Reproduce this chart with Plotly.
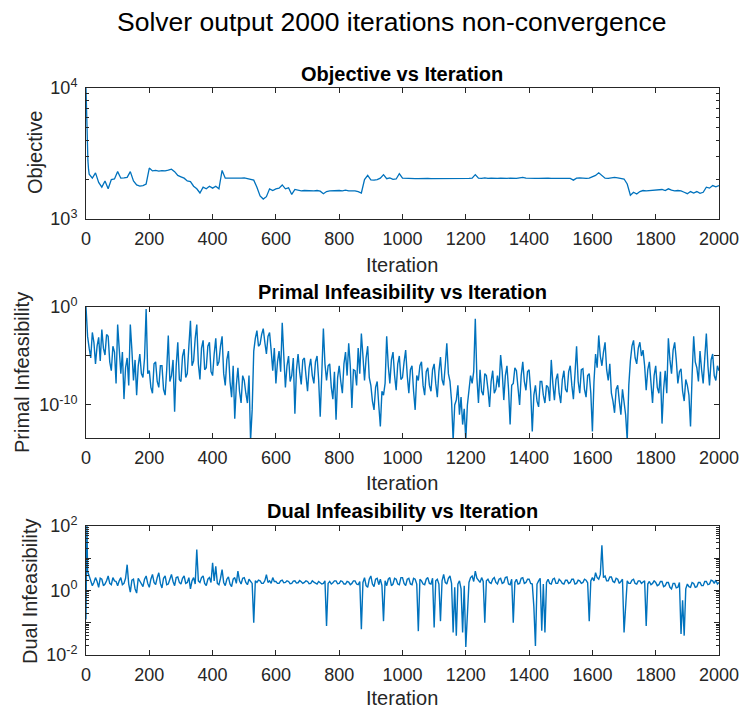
import plotly.graph_objects as go

# ---------------- data ----------------
obj_iter = [0, 2, 4, 6, 8] + list(range(10, 2001, 10))
objective = [
    10000, 5100, 3600, 2800, 2400,
    2200, 2050, 2250, 1900, 1750, 1950, 1700, 2000, 2020,
    2300, 2050, 2060, 2080, 2300, 1950, 1820, 1780, 1800, 1850,
    2450, 2330, 2350, 2320, 2340, 2330, 2360, 2400, 2300, 2150,
    2100, 2050, 1950, 1930, 1780, 1700, 1580, 1750, 1700, 1780,
    1720, 1780, 1700, 2350, 2050, 2050, 2030, 2040, 2030, 2050,
    2060, 2040, 2020, 1980, 1750, 1500, 1420, 1480, 1700, 1650,
    1700, 1720, 1820, 1700, 1730, 1540, 1680, 1650, 1640, 1650,
    1640, 1650, 1640, 1650, 1630, 1560, 1620, 1640, 1650, 1640,
    1650, 1640, 1660, 1640, 1650, 1640, 1620, 1580, 2000, 2150,
    1990, 1980, 2000, 2050, 2180, 2030, 2060, 2010, 2020, 2220,
    2050, 2040, 2030, 2020, 2030, 2030, 2040, 2050, 2040, 2030,
    2030, 2020, 2040, 2030, 2020, 2030, 2030, 2020, 2030, 2030,
    2030, 2040, 2050, 2180, 2050, 2040, 2060, 2040, 2050, 2040,
    2040, 2050, 2040, 2040, 2050, 2040, 2040, 2060, 2080, 2050,
    2040, 2050, 2040, 2040, 2050, 2040, 2050, 2040, 2040, 2040,
    2040, 2050, 2040, 2040, 1980, 2050, 2060, 2040, 2040, 2050,
    2100, 2150, 2250, 2150, 2050, 2040, 2050, 2080, 2060, 2040,
    2020, 1850, 1520, 1600, 1550, 1620, 1650, 1640, 1650, 1660,
    1650, 1660, 1680, 1650, 1700, 1660, 1640, 1650, 1640, 1600,
    1560, 1620, 1580, 1620, 1570, 1600, 1750, 1720, 1800, 1760, 1800,
]

# primal infeasibility, written as log10 of the value read on the log axis
primal_iter = list(range(0, 2001, 5))
primal_log10 = [
    0.0, -3.0, -4.2, -5.2, -2.6, -3.6, -5.8, -4.0, -3.1, -5.5, -2.3, -4.2, -4.9, -2.8, -3.0, -5.6, -6.5, -4.0, -4.6, -7.8,
    -1.8, -5.0, -6.8, -4.6, -9.4, -6.2, -5.2, -8.0, -1.8, -4.4, -7.5, -5.4, -9.0, -6.0, -4.8, -6.8, -7.2, -5.2, -0.2, -6.8,
    -6.5, -8.2, -8.8, -5.8, -5.6, -7.6, -8.2, -6.0, -6.0, -8.4, -9.0, -6.4, -2.9, -7.6, -7.0, -5.4, -10.7, -6.0, -3.6, -7.4,
    -7.6, -5.0, -4.3, -7.2, -6.8, -4.0, -1.4, -6.0, -5.5, -3.2, -1.8, -5.8, -7.4, -4.2, -3.4, -6.4, -6.2, -4.0, -3.6, -6.6,
    -7.0, -4.8, -3.2, -6.0, -5.6, -4.0, -3.0, -6.8, -8.0, -5.4, -4.5, -7.6, -9.2, -6.0, -11.4, -8.0, -6.2, -8.6, -9.8, -7.0,
    -7.5, -8.8, -9.8, -7.0, -13.6, -10.5, -4.5, -3.2, -2.4, -4.0, -3.8, -2.8, -2.2, -3.6, -4.8, -3.0, -2.6, -4.4, -6.5, -4.2,
    -7.8, -5.6, -4.5, -6.6, -1.6, -5.0, -8.2, -6.0, -5.0, -7.6, -7.0, -5.2, -10.9, -6.4, -4.8, -6.6, -7.9, -5.4, -5.2, -7.0,
    -8.6, -6.2, -5.3, -7.0, -7.8, -5.6, -5.0, -7.4, -11.2, -6.8, -2.2, -5.8, -7.5, -6.0, -5.8, -8.2, -9.4, -6.6, -11.5, -7.2,
    -6.0, -7.6, -8.8, -5.8, -4.6, -7.0, -3.7, -6.0, -10.3, -6.4, -6.5, -8.0, -4.2, -6.8, -2.7, -5.0, -7.5, -5.2, -4.0, -7.2,
    -8.0, -9.6, -10.5, -8.2, -7.6, -10.0, -12.2, -8.6, -9.0, -7.8, -3.0, -6.0, -7.8, -5.4, -4.6, -7.0, -8.5, -5.8, -5.0, -7.4,
    -7.2, -5.6, -4.4, -7.0, -8.8, -6.4, -6.0, -8.6, -10.5, -7.0, -7.5, -6.0, -5.6, -8.0, -9.0, -6.6, -6.2, -8.0, -8.6, -6.4,
    -5.8, -7.8, -9.2, -6.6, -5.1, -7.4, -8.0, -6.0, -3.7, -6.8, -7.6, -9.6, -13.6, -10.0, -9.5, -8.0, -11.0, -9.2, -12.0, -10.4,
    -13.6, -10.0, -8.5, -7.0, -7.8, -6.6, -1.2, -7.2, -9.8, -6.4, -8.6, -9.0, -6.8, -7.0, -8.4, -10.2, -7.6, -6.5, -8.8, -8.4,
    -7.0, -8.2, -4.9, -6.6, -9.5, -7.0, -6.0, -8.4, -12.0, -8.0, -7.8, -6.2, -6.5, -8.4, -10.0, -7.0, -5.6, -7.6, -8.5, -6.6,
    -6.4, -8.6, -12.7, -9.0, -8.0, -9.6, -10.2, -7.6, -7.6, -9.0, -9.8, -8.0, -8.2, -9.6, -5.4, -7.8, -9.5, -7.4, -6.8, -8.8,
    -9.8, -7.4, -6.5, -8.4, -8.7, -6.6, -6.0, -8.0, -9.4, -6.8, -4.0, -7.6, -8.8, -6.4, -6.3, -8.4, -9.2, -7.0, -6.8, -8.8,
    -12.7, -7.6, -4.8, -6.2, -2.9, -5.0, -6.0, -4.6, -3.6, -6.4, -7.5, -5.8, -8.8, -9.6, -10.8, -8.4, -8.0, -9.6, -11.0, -8.4,
    -9.5, -11.0, -13.6, -8.0, -5.5, -4.0, -3.4, -5.2, -5.8, -4.2, -3.6, -5.0, -4.4, -6.0, -8.5, -6.4, -5.6, -7.8, -9.8, -7.0,
    -6.0, -8.2, -8.8, -6.6, -11.9, -8.4, -6.5, -8.8, -3.2, -5.4, -6.8, -4.4, -3.6, -5.4, -7.8, -6.6, -6.3, -8.6, -9.6, -7.4,
    -8.0, -9.0, -12.2, -7.0, -3.0, -5.6, -6.2, -7.6, -4.5, -6.4, -7.8, -5.2, -2.7, -6.0, -8.0, -5.4, -4.8, -7.0, -7.5, -6.0, -6.5,
]

# dual infeasibility, written as log10 of the value read on the log axis
dual_iter = [0, 1, 2, 3] + list(range(5, 2001, 5))
dual_log10 = [
    -0.9, -0.4, 1.2, 2.0,
    0.6, 0.45, 0.30, 0.15, 0.25, 0.40, 0.28, 0.10, 0.38, 0.35, 0.15, 0.20, 0.30, 0.45, 0.22, 0.18, 0.40, 0.30, 0.28,
    0.15, 0.30, 0.40, 0.18, 0.22, 0.38, 0.80, 0.20, -0.05, 0.32, 0.35, 0.05, -0.08, 0.38, 0.30, 0.20, 0.12, 0.35, 0.45, 0.22,
    0.10, 0.35, 0.50, 0.25, 0.18, 0.40, 0.55, 0.22, 0.08, 0.38, 0.45, 0.18, 0.20, 0.35, 0.50, 0.28, 0.15, 0.40, 0.42, 0.25,
    0.20, 0.38, 0.45, 0.22, 0.25, 0.40, 0.05, 0.30, 0.40, 0.20, 1.27, 0.30, 0.25, 0.40, 0.45, 0.22, 0.15, 0.35, 0.40, 0.25,
    0.86, 0.30, 0.75, 0.22, 0.18, 0.38, 0.65, 0.25, 0.15, 0.35, 0.42, 0.20, 0.12, 0.35, 0.40, 0.22, 0.60, 0.30, 0.20, 0.38,
    0.40, 0.25, 0.18, 0.35, 0.30, 0.22, -1.0, 0.30, 0.25, 0.32, 0.30, 0.22, 0.22, 0.30, 0.49, 0.25, 0.30, 0.22, 0.40, 0.28,
    0.28, 0.22, 0.22, 0.30, 0.32, 0.24, 0.25, 0.30, 0.28, 0.21, 0.22, 0.29, 0.30, 0.23, 0.24, 0.31, 0.27, 0.22, 0.25, 0.30,
    0.28, 0.21, 0.22, 0.30, 0.26, 0.22, 0.20, 0.28, 0.25, 0.20, 0.22, 0.30, -1.1, 0.22, 0.28, 0.20, 0.24, 0.30, 0.30, 0.21,
    0.22, 0.30, 0.28, 0.20, 0.20, 0.28, 0.26, 0.18, 0.22, 0.30, 0.30, 0.20, 0.18, 0.28, -1.2, 0.25, 0.40, 0.15, 0.10, 0.35,
    0.45, 0.20, 0.12, 0.35, 0.38, 0.18, 0.35, 0.15, -0.95, 0.30, 0.15, 0.35, 0.40, 0.15, 0.20, 0.38, 0.35, 0.20, 0.18, 0.40,
    0.40, 0.22, 0.15, 0.35, 0.38, 0.20, 0.18, 0.38, 0.35, 0.20, -1.26, 0.35, 0.30, 0.20, 0.18, 0.35, 0.40, 0.22, 0.20, 0.38,
    -1.15, 0.30, 0.35, 0.20, -0.95, 0.30, 0.50, 0.25, 0.20, 0.38, 0.45, 0.22, -1.3, 0.10, -1.4, 0.20, 0.30, 0.05, -1.3, 0.15,
    -1.75, -0.8, 0.25, 0.40, 0.45, 0.28, 0.60, 0.38, 0.30, 0.25, 0.40, 0.28, -1.0, 0.30, 0.35, 0.25, 0.22, 0.35, 0.40, 0.25,
    0.20, 0.35, 0.38, 0.22, 0.25, 0.40, 0.42, 0.20, 0.18, 0.35, -1.0, 0.25, 0.35, 0.20, 0.22, 0.38, 0.40, 0.22, 0.25, 0.35,
    0.35, 0.22, 0.20, -0.5, -1.72, 0.20, 0.30, 0.38, -1.25, 0.20, -1.3, 0.25, 0.35, 0.22, 0.20, 0.35, 0.38, 0.22, 0.22, 0.35,
    0.30, 0.22, 0.20, 0.32, 0.32, 0.22, 0.25, 0.35, 0.35, 0.20, 0.22, 0.32, 0.30, 0.22, 0.25, 0.35, 0.32, 0.24, -0.95, 0.30,
    0.40, 0.30, 0.55, 0.40, 0.35, 0.50, 1.40, 0.40, 0.45, 0.30, 0.30, 0.42, 0.42, 0.28, 0.25, 0.38, 0.35, 0.22, 0.28, 0.35,
    -1.3, -0.6, 0.30, 0.22, 0.22, 0.32, 0.35, 0.22, 0.20, 0.30, 0.30, 0.22, 0.25, 0.30, -1.1, 0.20, 0.28, 0.18, 0.22, 0.30,
    0.25, 0.15, 0.18, 0.28, 0.28, 0.12, 0.15, 0.25, 0.25, 0.10, 0.05, 0.22, 0.22, 0.08, 0.10, 0.25, -1.35, -0.3, -1.4, 0.05,
    0.20, 0.12, 0.10, 0.25, 0.22, 0.10, 0.12, 0.25, 0.25, 0.15, 0.15, 0.28, 0.28, 0.18, 0.20, 0.32, 0.30, 0.22, 0.32, 0.20, 0.25,
]

x_ticks = list(range(0, 2001, 200))

assert len(obj_iter) == len(objective)
assert len(primal_iter) == len(primal_log10)
assert len(dual_iter) == len(dual_log10)

primal = [10 ** v for v in primal_log10]
dual = [10 ** v for v in dual_log10]

# ---------------- figure ----------------
W, H = 742, 711
LINE = "#0072BD"
AX = "#262626"
FONT = "Liberation Sans, Arial, Helvetica, sans-serif"


def px_x(p):
    return p / W


def px_y(p):
    return 1 - p / H


x_dom = [px_x(86), px_x(719)]
panels = [(88, 219), (307, 438), (526, 655)]

fig = go.Figure()
fig.add_trace(go.Scatter(x=obj_iter, y=objective, mode="lines",
                         line=dict(color=LINE, width=1.3), xaxis="x", yaxis="y"))
fig.add_trace(go.Scatter(x=primal_iter, y=primal, mode="lines",
                         line=dict(color=LINE, width=1.4), xaxis="x2", yaxis="y2"))
fig.add_trace(go.Scatter(x=dual_iter, y=dual, mode="lines",
                         line=dict(color=LINE, width=1.4), xaxis="x3", yaxis="y3"))

common_x = dict(range=[0, 2000], tickvals=x_ticks, ticks="inside", ticklen=5,
                tickcolor=AX, showline=True, linecolor=AX, linewidth=1,
                mirror="ticks", showgrid=False, zeroline=False, automargin=False,
                tickfont=dict(family=FONT, size=18, color=AX),
                ticklabelstandoff=3)
common_y = dict(type="log", ticks="inside", ticklen=5, tickcolor=AX,
                showline=True, linecolor=AX, linewidth=1, mirror="ticks",
                showgrid=False, zeroline=False, automargin=False,
                tickfont=dict(family=FONT, size=18, color=AX),
                ticklabelstandoff=4)

minor1 = [m * 1000 for m in range(2, 10)]
minor3 = [m * 10 ** e for e in (-2, -1, 0, 1) for m in range(2, 10)]

layout = dict(
    template="none",
    width=W, height=H, margin=dict(l=0, r=0, t=0, b=0, pad=0, autoexpand=False),
    paper_bgcolor="white", plot_bgcolor="white", showlegend=False,
    xaxis=dict(common_x, domain=x_dom, anchor="y"),
    xaxis2=dict(common_x, domain=x_dom, anchor="y2"),
    xaxis3=dict(common_x, domain=x_dom, anchor="y3"),
    yaxis=dict(common_y, domain=[px_y(panels[0][1]), px_y(panels[0][0])], anchor="x",
               range=[3, 4], tickvals=[1000, 10000],
               ticktext=["10<sup>3</sup>", "10<sup>4</sup>"],
               minor=dict(tickvals=minor1, ticks="inside", ticklen=3, tickcolor=AX)),
    yaxis2=dict(common_y, domain=[px_y(panels[1][1]), px_y(panels[1][0])], anchor="x2",
                range=[-13.37, 0], tickvals=[1, 1e-5, 1e-10],
                ticktext=["10<sup>0</sup>", "", "10<sup>-10</sup>"]),
    yaxis3=dict(common_y, domain=[px_y(panels[2][1]), px_y(panels[2][0])], anchor="x3",
                range=[-2, 2], tickvals=[0.01, 0.1, 1, 10, 100],
                ticktext=["10<sup>-2</sup>", "", "10<sup>0</sup>", "", "10<sup>2</sup>"],
                minor=dict(tickvals=minor3, ticks="inside", ticklen=3, tickcolor=AX)),
)
fig.update_layout(**layout)

ann = []
ann.append(dict(text="Solver output 2000 iterations non-convergence", x=px_x(392), y=px_y(22),
                font=dict(family=FONT, size=26.5, color="#000000")))
sub_titles = ["Objective vs Iteration", "Primal Infeasibility vs Iteration",
              "Dual Infeasibility vs Iteration"]
sub_y = [74, 292, 511]
xlab_y = [265, 483, 698]
ylabels = ["Objective", "Primal Infeasibility", "Dual Infeasibility"]
ylab_x = [35, 22, 30]
ylab_y = [153, 373, 591]
for i in range(3):
    ann.append(dict(text="<b>" + sub_titles[i] + "</b>", x=px_x(402), y=px_y(sub_y[i]),
                    font=dict(family=FONT, size=20, color="#000000")))
    ann.append(dict(text="Iteration", x=px_x(402), y=px_y(xlab_y[i]),
                    font=dict(family=FONT, size=20, color=AX)))
    ann.append(dict(text=ylabels[i], x=px_x(ylab_x[i]), y=px_y(ylab_y[i]), textangle=-90,
                    font=dict(family=FONT, size=20, color=AX)))
for a in ann:
    a.update(xref="paper", yref="paper", showarrow=False, xanchor="center", yanchor="middle")
fig.update_layout(annotations=ann)

fig.write_html("out.html")
